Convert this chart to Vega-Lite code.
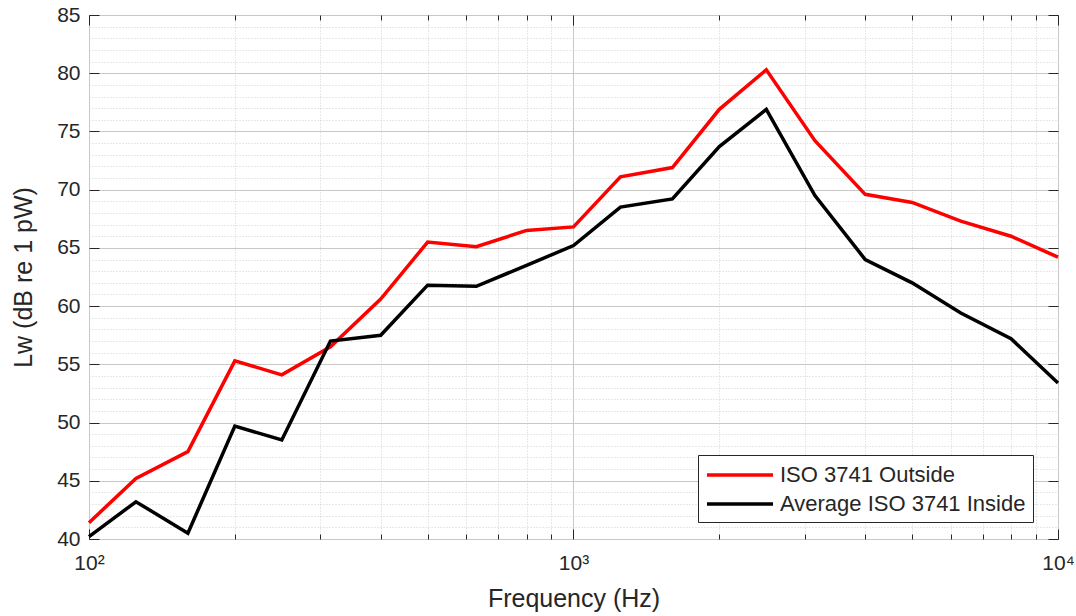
{
  "$schema": "https://vega.github.io/schema/vega-lite/v6.json",
  "width": 969,
  "height": 524,
  "autosize": {"type": "none"},
  "padding": {"left": 89, "top": 15, "right": 18, "bottom": 77},
  "background": "white",
  "config": {
    "view": {"stroke": "#8a8a8a", "strokeWidth": 1},
    "font": "Liberation Sans",
    "axis": {"labelColor": "#262626", "titleColor": "#262626", "tickColor": "#262626", "domain": false}
  },
  "data": {
    "values": [
      {"f": 100, "v": 41.4, "series": "ISO 3741 Outside"},
      {"f": 125, "v": 45.2, "series": "ISO 3741 Outside"},
      {"f": 160, "v": 47.5, "series": "ISO 3741 Outside"},
      {"f": 200, "v": 55.3, "series": "ISO 3741 Outside"},
      {"f": 250, "v": 54.1, "series": "ISO 3741 Outside"},
      {"f": 315, "v": 56.5, "series": "ISO 3741 Outside"},
      {"f": 400, "v": 60.6, "series": "ISO 3741 Outside"},
      {"f": 500, "v": 65.5, "series": "ISO 3741 Outside"},
      {"f": 630, "v": 65.1, "series": "ISO 3741 Outside"},
      {"f": 800, "v": 66.5, "series": "ISO 3741 Outside"},
      {"f": 1000, "v": 66.8, "series": "ISO 3741 Outside"},
      {"f": 1250, "v": 71.1, "series": "ISO 3741 Outside"},
      {"f": 1600, "v": 71.9, "series": "ISO 3741 Outside"},
      {"f": 2000, "v": 76.9, "series": "ISO 3741 Outside"},
      {"f": 2500, "v": 80.3, "series": "ISO 3741 Outside"},
      {"f": 3150, "v": 74.2, "series": "ISO 3741 Outside"},
      {"f": 4000, "v": 69.6, "series": "ISO 3741 Outside"},
      {"f": 5000, "v": 68.9, "series": "ISO 3741 Outside"},
      {"f": 6300, "v": 67.3, "series": "ISO 3741 Outside"},
      {"f": 8000, "v": 66.0, "series": "ISO 3741 Outside"},
      {"f": 10000, "v": 64.2, "series": "ISO 3741 Outside"},
      {"f": 100, "v": 40.2, "series": "Average ISO 3741 Inside"},
      {"f": 125, "v": 43.2, "series": "Average ISO 3741 Inside"},
      {"f": 160, "v": 40.5, "series": "Average ISO 3741 Inside"},
      {"f": 200, "v": 49.7, "series": "Average ISO 3741 Inside"},
      {"f": 250, "v": 48.5, "series": "Average ISO 3741 Inside"},
      {"f": 315, "v": 57.0, "series": "Average ISO 3741 Inside"},
      {"f": 400, "v": 57.5, "series": "Average ISO 3741 Inside"},
      {"f": 500, "v": 61.8, "series": "Average ISO 3741 Inside"},
      {"f": 630, "v": 61.7, "series": "Average ISO 3741 Inside"},
      {"f": 800, "v": 63.5, "series": "Average ISO 3741 Inside"},
      {"f": 1000, "v": 65.2, "series": "Average ISO 3741 Inside"},
      {"f": 1250, "v": 68.5, "series": "Average ISO 3741 Inside"},
      {"f": 1600, "v": 69.2, "series": "Average ISO 3741 Inside"},
      {"f": 2000, "v": 73.7, "series": "Average ISO 3741 Inside"},
      {"f": 2500, "v": 76.9, "series": "Average ISO 3741 Inside"},
      {"f": 3150, "v": 69.5, "series": "Average ISO 3741 Inside"},
      {"f": 4000, "v": 64.0, "series": "Average ISO 3741 Inside"},
      {"f": 5000, "v": 62.0, "series": "Average ISO 3741 Inside"},
      {"f": 6300, "v": 59.4, "series": "Average ISO 3741 Inside"},
      {"f": 8000, "v": 57.2, "series": "Average ISO 3741 Inside"},
      {"f": 10000, "v": 53.4, "series": "Average ISO 3741 Inside"}
    ]
  },
  "layer": [
    {
      "transform": [{"filter": "datum.series == 'ISO 3741 Outside'"}],
      "mark": {"type": "line", "strokeWidth": 3.5},
      "encoding": {
        "x": {
          "field": "f", "type": "quantitative",
          "scale": {"type": "log", "domain": [100, 10000], "nice": false},
          "axis": {
            "orient": "bottom",
            "title": "Frequency (Hz)",
            "titleFontSize": 25, "titleFontWeight": "normal", "titlePadding": 8,
            "values": [100,200,300,400,500,600,700,800,900,1000,2000,3000,4000,5000,6000,7000,8000,9000,10000],
            "labelExpr": "datum.value == 100 ? '10²' : datum.value == 1000 ? '10³' : datum.value == 10000 ? '10⁴' : ''",
            "labelFontSize": 21, "labelPadding": 23, "labelFlush": false, "labelOverlap": false,
            "grid": true,
            "gridColor": {"condition": {"test": "datum.value == 100 || datum.value == 1000 || datum.value == 10000", "value": "#c8c8c8"}, "value": "#d0d0d0"},
            "gridDash": {"condition": {"test": "datum.value == 100 || datum.value == 1000 || datum.value == 10000", "value": []}, "value": [1, 2]},
            "tickSize": {"condition": {"test": "datum.value == 100 || datum.value == 1000 || datum.value == 10000", "value": -10}, "value": -5}
          }
        },
        "y": {
          "field": "v", "type": "quantitative",
          "scale": {"domain": [40, 85], "nice": false, "zero": false},
          "axis": {
            "orient": "left",
            "title": "Lw (dB re 1 pW)",
            "titleFontSize": 25, "titleFontWeight": "normal", "titlePadding": 20,
            "values": [40,41,42,43,44,45,46,47,48,49,50,51,52,53,54,55,56,57,58,59,60,61,62,63,64,65,66,67,68,69,70,71,72,73,74,75,76,77,78,79,80,81,82,83,84,85],
            "labelExpr": "datum.value % 5 == 0 ? datum.label : ''",
            "labelFontSize": 21, "labelPadding": 19, "labelFlush": false, "labelOverlap": false,
            "grid": true,
            "gridColor": {"condition": {"test": "datum.value % 5 == 0", "value": "#c8c8c8"}, "value": "#d0d0d0"},
            "gridDash": {"condition": {"test": "datum.value % 5 == 0", "value": []}, "value": [1, 2]},
            "tickSize": {"condition": {"test": "datum.value % 5 == 0", "value": -10}, "value": 0}
          }
        },
        "color": {
          "field": "series", "type": "nominal",
          "scale": {"domain": ["ISO 3741 Outside", "Average ISO 3741 Inside"], "range": ["#ff0000", "#000000"]},
          "legend": {
            "orient": "none", "legendX": 609, "legendY": 440,
            "title": null,
            "symbolType": "M-1,0H5", "symbolSize": 484, "symbolStrokeWidth": 3.5,
            "labelFontSize": 22, "labelColor": "#262626", "labelOffset": 49, "labelLimit": 0,
            "strokeColor": "#262626", "fillColor": "white", "padding": 7, "rowPadding": 5
          }
        }
      }
    },
    {
      "transform": [{"filter": "datum.series == 'Average ISO 3741 Inside'"}],
      "mark": {"type": "line", "strokeWidth": 3.5},
      "encoding": {
        "x": {
          "field": "f", "type": "quantitative",
          "scale": {"type": "log", "domain": [100, 10000], "nice": false},
          "axis": {
            "orient": "top", "title": null, "labels": false, "grid": false,
            "values": [100,200,300,400,500,600,700,800,900,1000,2000,3000,4000,5000,6000,7000,8000,9000,10000],
            "tickSize": {"condition": {"test": "datum.value == 100 || datum.value == 1000 || datum.value == 10000", "value": -10}, "value": -5}
          }
        },
        "y": {
          "field": "v", "type": "quantitative",
          "scale": {"domain": [40, 85], "nice": false, "zero": false},
          "axis": {
            "orient": "right", "title": null, "labels": false, "grid": false,
            "values": [40,45,50,55,60,65,70,75,80,85],
            "tickSize": -10
          }
        },
        "color": {"field": "series", "type": "nominal"}
      }
    }
  ],
  "resolve": {"axis": {"x": "independent", "y": "independent"}}
}
